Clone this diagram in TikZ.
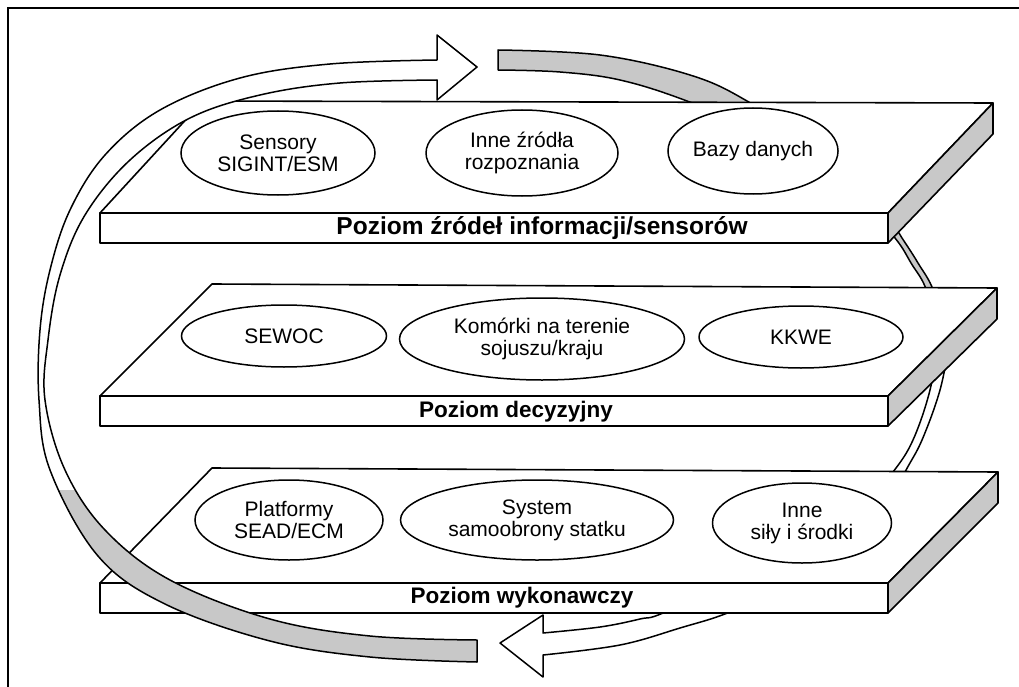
\documentclass[tikz,border=0pt]{standalone}
\usepackage{fontspec}
\setmainfont{Liberation Sans}
\usetikzlibrary{shapes.geometric}
\definecolor{bandgray}{RGB}{200,200,200}
\tikzset{
  edge/.style={line width=1.6pt, line join=round},
  face/.style={edge, fill=white},
  sideface/.style={edge, fill=bandgray},
  item/.style={ellipse, draw, line width=1.5pt, fill=white, inner sep=0pt,
    align=center, font=\fontsize{21}{22}\selectfont},
  level/.style={font=\fontsize{22.5}{24}\selectfont\bfseries},
  bandline/.style={line width=1.5pt, line join=round},
}
% one platform: front top y, back-left corner, back-right corner
\newcommand{\drawslab}[5]{%
  \filldraw[face] (100,#1) -- (#2,#3) -- (#4,#5) -- (888,#1) -- cycle;
  \filldraw[face] (100,#1) rectangle (888,#1+30);
  \filldraw[sideface] (888,#1) -- (#4,#5) -- (#4,#5+31) -- (888,#1+30) -- cycle;
}
\begin{document}
\begin{tikzpicture}[x=1pt,y=-1pt]
\useasboundingbox (0,0) rectangle (1019,687);
\draw[line width=2pt] (8,687) -- (8,8) -- (1019,8);

% rear half of the cycle ring, passing behind the platforms
\filldraw[bandline, fill=bandgray] plot[smooth, tension=0.6] coordinates {(498,50) (600,55) (690,75) (747,101) (820,150) (880,205) (902,238) (918,263) (934,292) (948,345)}
  -- plot[smooth, tension=0.6] coordinates {(936,345) (927,292) (911,263) (895,238) (860,200) (780,140) (687,101) (620,80) (560,72) (498,70)} -- cycle;
\filldraw[bandline, fill=white] plot[smooth, tension=0.6] coordinates {(950,340) (940,390) (922,440) (905,472) (880,520) (800,580) (730,612) (680,628) (620,645) (543,655)}
  -- (543,677) -- (500,643) -- (543,615)
  -- plot[smooth, tension=0.6] coordinates {(543,633) (600,627) (640,619) (668,611) (780,560) (860,510) (893,472) (913,440) (930,390) (938,340)} -- cycle;

% level 1
\drawslab{213}{203}{101}{993}{103}
\node[item, minimum width=194pt, minimum height=84pt] (sig) at (278,153) {Sensory\\SIGINT/ESM};
\node[item, minimum width=192pt, minimum height=86pt] (inne) at (522,153) {Inne źródła\\rozpoznania};
\node[item, minimum width=160pt, minimum height=86pt] (bazy) at (753,151) {Bazy danych};
\node[level, font=\fontsize{24.5}{26}\selectfont\bfseries] (l1) at (542,228) {Poziom źródeł informacji/sensorów};

% level 2
\drawslab{396}{212}{284}{997}{288}
\node[item, minimum width=205pt, minimum height=62pt] (sewoc) at (284,336) {SEWOC};
\node[item, minimum width=285pt, minimum height=82pt] (kom) at (542,339) {Komórki na terenie\\sojuszu/kraju};
\node[item, minimum width=204pt, minimum height=62pt] (kkwe) at (801,337) {KKWE};
\node[level] (l2) at (516,412) {Poziom decyzyjny};

% level 3
\drawslab{583}{212}{468}{998}{472}
\node[item, minimum width=188pt, minimum height=80pt] (plat) at (289,520) {Platformy\\SEAD/ECM};
\node[item, minimum width=273pt, minimum height=80pt] (sys) at (537,520) {System\\samoobrony statku};
\node[item, minimum width=179pt, minimum height=80pt] (sily) at (802,523) {Inne\\siły i środki};
\node[level] (l3) at (522,598) {Poziom wykonawczy};

% front half of the cycle ring, passing in front of the platforms
\path[save path=\frontband] plot[smooth, tension=0.6] coordinates {(437,60) (330,64) (240,78) (160,110) (105,155) (70,210) (50,270) (40,330) (39,400) (50,470) (98,556) (165,604) (270,641) (370,657) (477,662)}
  -- plot[smooth, tension=0.6] coordinates {(477,640) (370,636) (270,619) (170,580) (105,530) (65,470) (45,400) (48,340) (60,275) (85,215) (130,160) (190,118) (260,95) (340,83) (437,80)}
  -- (437,100) -- (477,67) -- (437,35) -- cycle;
\path[use path=\frontband, fill=white];
\begin{scope}
  \clip (0,490) rectangle (600,687);
  \path[use path=\frontband, fill=bandgray];
\end{scope}
\path[use path=\frontband, draw, bandline];
\end{tikzpicture}
\end{document}
